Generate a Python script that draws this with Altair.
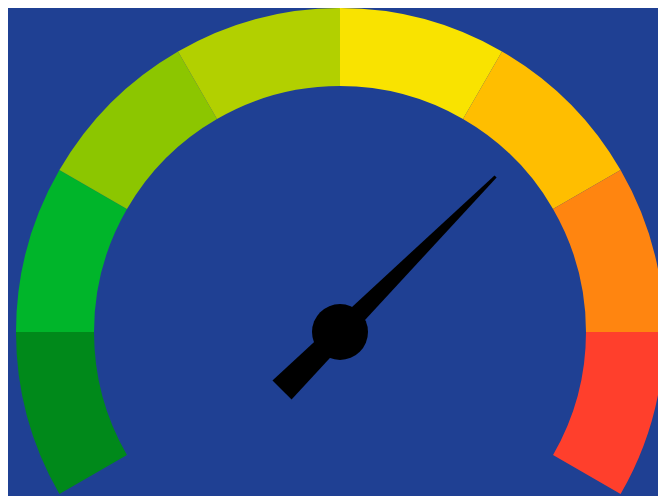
import altair as alt
import pandas as pd
import math

# Gauge bands (value units 0..8, one band per unit)
band_start = [0, 1, 2, 3, 4, 5, 6, 7]
band_end = [1, 2, 3, 4, 5, 6, 7, 8]
band_color = ["#00891A", "#00B52A", "#8CC600", "#B2D000",
              "#F9E300", "#FFBE00", "#FF8510", "#FF3F2C"]
needle_value = [5.5]

BG = "#1F4093"

bands = pd.DataFrame({"start": band_start, "end": band_end, "color": band_color})
needle = pd.DataFrame({"value": needle_value})

x_scale = alt.Scale(domain=[-332 / 324, 318 / 324], nice=False, zero=False)
y_scale = alt.Scale(domain=[-164 / 324, 1.0], nice=False, zero=False)
theta_scale = alt.Scale(domain=[0, 8], range=[4 * math.pi / 3, 8 * math.pi / 3])
angle_scale = alt.Scale(domain=[0, 8], range=[240, 480])

cx = alt.XDatum(0, type="quantitative", scale=x_scale, axis=None)
cy = alt.YDatum(0, type="quantitative", scale=y_scale, axis=None)

arcs = alt.Chart(bands).mark_arc(strokeWidth=0).encode(
    x=cx,
    y=cy,
    theta=alt.Theta("start:Q", scale=theta_scale, stack=False),
    theta2="end:Q",
    radius=alt.value(324),
    radius2=alt.value(246),
    color=alt.Color("color:N", scale=None, legend=None),
)

needle_path = "M -0.0614 0.3727 L -0.0068 -1 L 0.0068 -1 L 0.0614 0.3727 Z"

needle_mark = alt.Chart(needle).mark_point(
    shape=needle_path, filled=True, fill="#000000", opacity=1,
    strokeWidth=0, size=440 * 440
).encode(
    x=cx,
    y=cy,
    angle=alt.Angle("value:Q", scale=angle_scale, legend=None),
)

hub = alt.Chart(needle).mark_circle(
    color="#000000", opacity=1, size=56 * 56
).encode(x=cx, y=cy)

chart = alt.layer(arcs, needle_mark, hub).properties(
    width=650, height=488, padding=0,
    autosize=alt.AutoSizeParams(type="none"),
    background=BG,
).configure_view(stroke=None)

chart.save("out.html", embed_options={"renderer": "svg", "actions": False})
